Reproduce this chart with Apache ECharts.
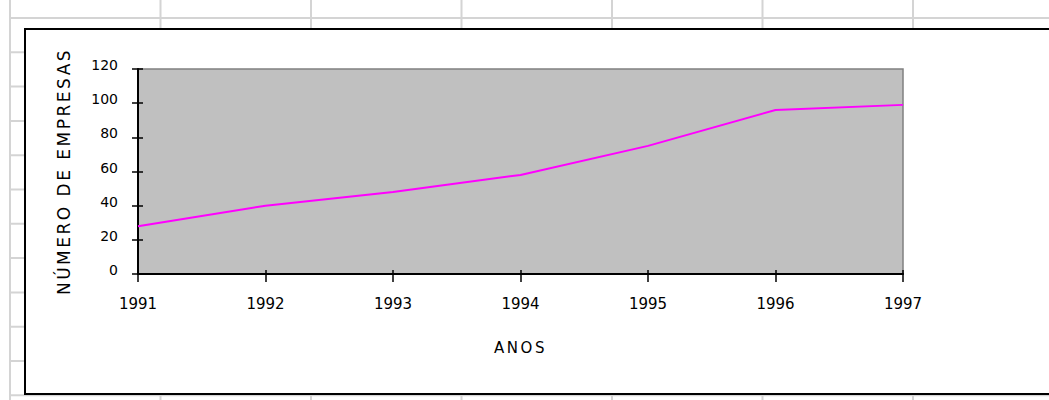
<!DOCTYPE html>
<html>
<head>
<meta charset="utf-8">
<script src="https://cdn.jsdelivr.net/npm/echarts@6/dist/echarts.min.js"></script>
<style>
  html, body { margin: 0; padding: 0; background: #fff; }
  #chart { width: 1049px; height: 400px; }
  /* the old Excel bitmap font is widely spaced; only the axis titles use the Verdana fallback marker */
  #chart text[style*="Verdana"] { letter-spacing: 2.5px; }
</style>
</head>
<body>
<div id="chart"></div>
<script>
const years = ['1991', '1992', '1993', '1994', '1995', '1996', '1997']
const empresas = [28, 40, 48, 58, 75, 96, 99]
const yMin = 0
const yMax = 120
const yStep = 20

const chart = echarts.init(document.getElementById('chart'), null, { renderer: 'svg' })

// spreadsheet cells behind the embedded chart
const sheet = []
for (let i = 0; i < 7; i++) {
  const x = 10 + i * 150.5
  sheet.push({ type: 'line', z: -20, shape: { x1: x, y1: 0, x2: x, y2: 400 }, style: { stroke: '#d4d4d4', lineWidth: 2 } })
}
for (let i = 0; i < 12; i++) {
  const y = 18 + i * 34.3
  sheet.push({ type: 'line', z: -20, shape: { x1: 10, y1: y, x2: 1049, y2: y }, style: { stroke: '#d4d4d4', lineWidth: 2 } })
}
sheet.push({
  type: 'rect', z: -10,
  shape: { x: 25, y: 29, width: 1100, height: 365 },
  style: { fill: '#fff', stroke: '#000', lineWidth: 2 }
})

const titleFont = 'DejaVu Sans, Verdana'
const labelFont = 'DejaVu Sans'

const option = {
  animation: false,
  textStyle: { fontFamily: labelFont },
  graphic: sheet,
  grid: {
    left: 138,
    right: 146,
    top: 69,
    bottom: 126,
    show: true,
    backgroundColor: '#c0c0c0',
    borderColor: '#808080',
    borderWidth: 1.5
  },
  xAxis: [
    {
      type: 'category',
      data: years,
      boundaryGap: false,
      name: 'ANOS',
      nameLocation: 'middle',
      nameGap: 66,
      nameTextStyle: { fontFamily: titleFont, fontSize: 15, color: '#000' },
      axisLine: { show: true, lineStyle: { color: '#000', width: 2 } },
      axisTick: { show: true, inside: false, length: 8, alignWithLabel: true, lineStyle: { color: '#000', width: 1.5 } },
      axisLabel: { show: true, margin: 22, fontFamily: labelFont, fontSize: 15, color: '#000', interval: 0 },
      splitLine: { show: false }
    },
    {
      type: 'category',
      data: years,
      boundaryGap: false,
      position: 'bottom',
      axisLine: { show: false },
      axisTick: { show: true, inside: true, length: 4, lineStyle: { color: '#000', width: 1.5 } },
      axisLabel: { show: false },
      splitLine: { show: false }
    }
  ],
  yAxis: [
    {
      type: 'value',
      min: yMin,
      max: yMax,
      interval: yStep,
      name: 'NÚMERO DE EMPRESAS',
      nameLocation: 'middle',
      nameRotate: 90,
      nameGap: 66,
      nameTextStyle: { fontFamily: titleFont, fontSize: 17, color: '#000' },
      axisLine: { show: true, lineStyle: { color: '#000', width: 2 } },
      axisTick: { show: true, inside: false, length: 6, lineStyle: { color: '#000', width: 1.5 } },
      axisLabel: {
        show: true, margin: 20, color: '#000',
        formatter: '{t|{value}}',
        rich: { t: { fontFamily: labelFont, fontSize: 14, color: '#000', padding: [0, 0, 8, 0] } }
      },
      splitLine: { show: false }
    },
    {
      type: 'value',
      min: yMin,
      max: yMax,
      interval: yStep,
      position: 'left',
      axisLine: { show: false },
      axisTick: { show: true, inside: true, length: 5, lineStyle: { color: '#000', width: 1.5 } },
      axisLabel: { show: false },
      splitLine: { show: false }
    }
  ],
  series: [
    {
      type: 'line',
      data: empresas,
      symbol: 'none',
      lineStyle: { color: '#ff00ff', width: 2 },
      itemStyle: { color: '#ff00ff' }
    }
  ]
}

chart.setOption(option)
</script>
</body>
</html>
